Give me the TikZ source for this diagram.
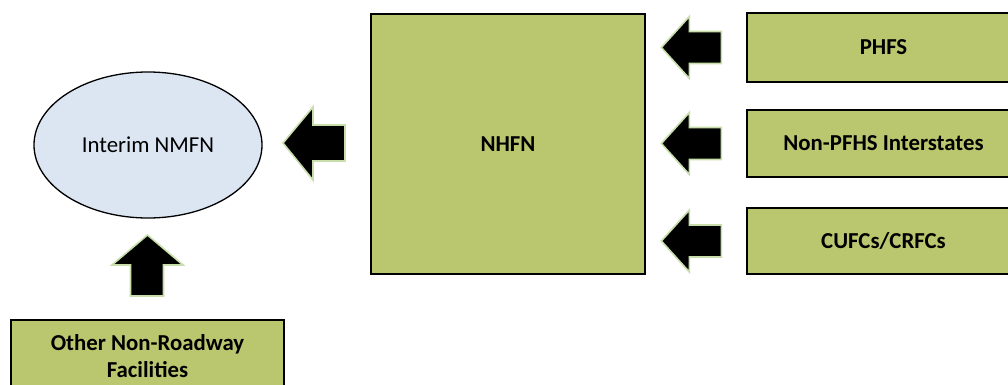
\documentclass[tikz,border=0pt]{standalone}
\usetikzlibrary{shapes.geometric}
\usepackage{fontspec}
\setmainfont{Carlito}
\definecolor{boxgreen}{RGB}{186,199,110}
\definecolor{ellblue}{RGB}{220,230,242}
\definecolor{glow}{RGB}{200,222,170}
\tikzset{
  gbox/.style={draw=black, line width=1.3pt, fill=boxgreen, inner sep=0pt,
    font=\fontsize{22.8}{26.5}\selectfont\bfseries, align=center},
  blockarrow/.style={fill=black, draw=glow, line width=1.6pt, line join=miter},
}
\begin{document}
\begin{tikzpicture}[x=1pt,y=-1pt]
\useasboundingbox (0,0) rectangle (1008,385);
\clip (0,0) rectangle (1008,385);

% the interim network
\node (nmfn) [ellipse, draw=black, line width=1.3pt, fill=ellblue,
  minimum width=228pt, minimum height=146pt, inner sep=0pt,
  font=\fontsize{22.8}{26}\selectfont] at (148,145) {Interim NMFN};

% boxes
\node (nhfn) [gbox, minimum width=274pt, minimum height=260pt] at (508,144) {NHFN};
\node (phfs) [gbox, minimum width=273pt, minimum height=69pt] at (883.5,47.5) {PHFS};
\node (inter) [gbox, minimum width=273pt, minimum height=67pt] at (883.5,143.5) {Non-PFHS Interstates};
\node (cufc) [gbox, minimum width=273pt, minimum height=66pt] at (883.5,241) {CUFCs/CRFCs};
\node (other) [gbox, minimum width=273pt, minimum height=72pt] at (147.5,356) {Other Non-Roadway\\Facilities};

% block arrow from NHFN to the interim network
\draw[blockarrow] (283,143) -- (313,107) -- (313,125) -- (345,125) -- (345,161)
  -- (313,161) -- (313,180) -- cycle;

% block arrows from the three sources into NHFN
\foreach \n in {phfs,inter,cufc}{
  \path (\n.west) coordinate (c);
  \draw[blockarrow] (c) ++(-85,0) -- ++(28,-31) -- ++(0,15) -- ++(32,0)
    -- ++(0,32) -- ++(-32,0) -- ++(0,15) -- cycle;
}

% block arrow from other facilities up to the interim network
\draw[blockarrow] (147.5,235) -- (183,265) -- (163.5,265) -- (163.5,296)
  -- (130.5,296) -- (130.5,265) -- (112,265) -- cycle;
\end{tikzpicture}
\end{document}
